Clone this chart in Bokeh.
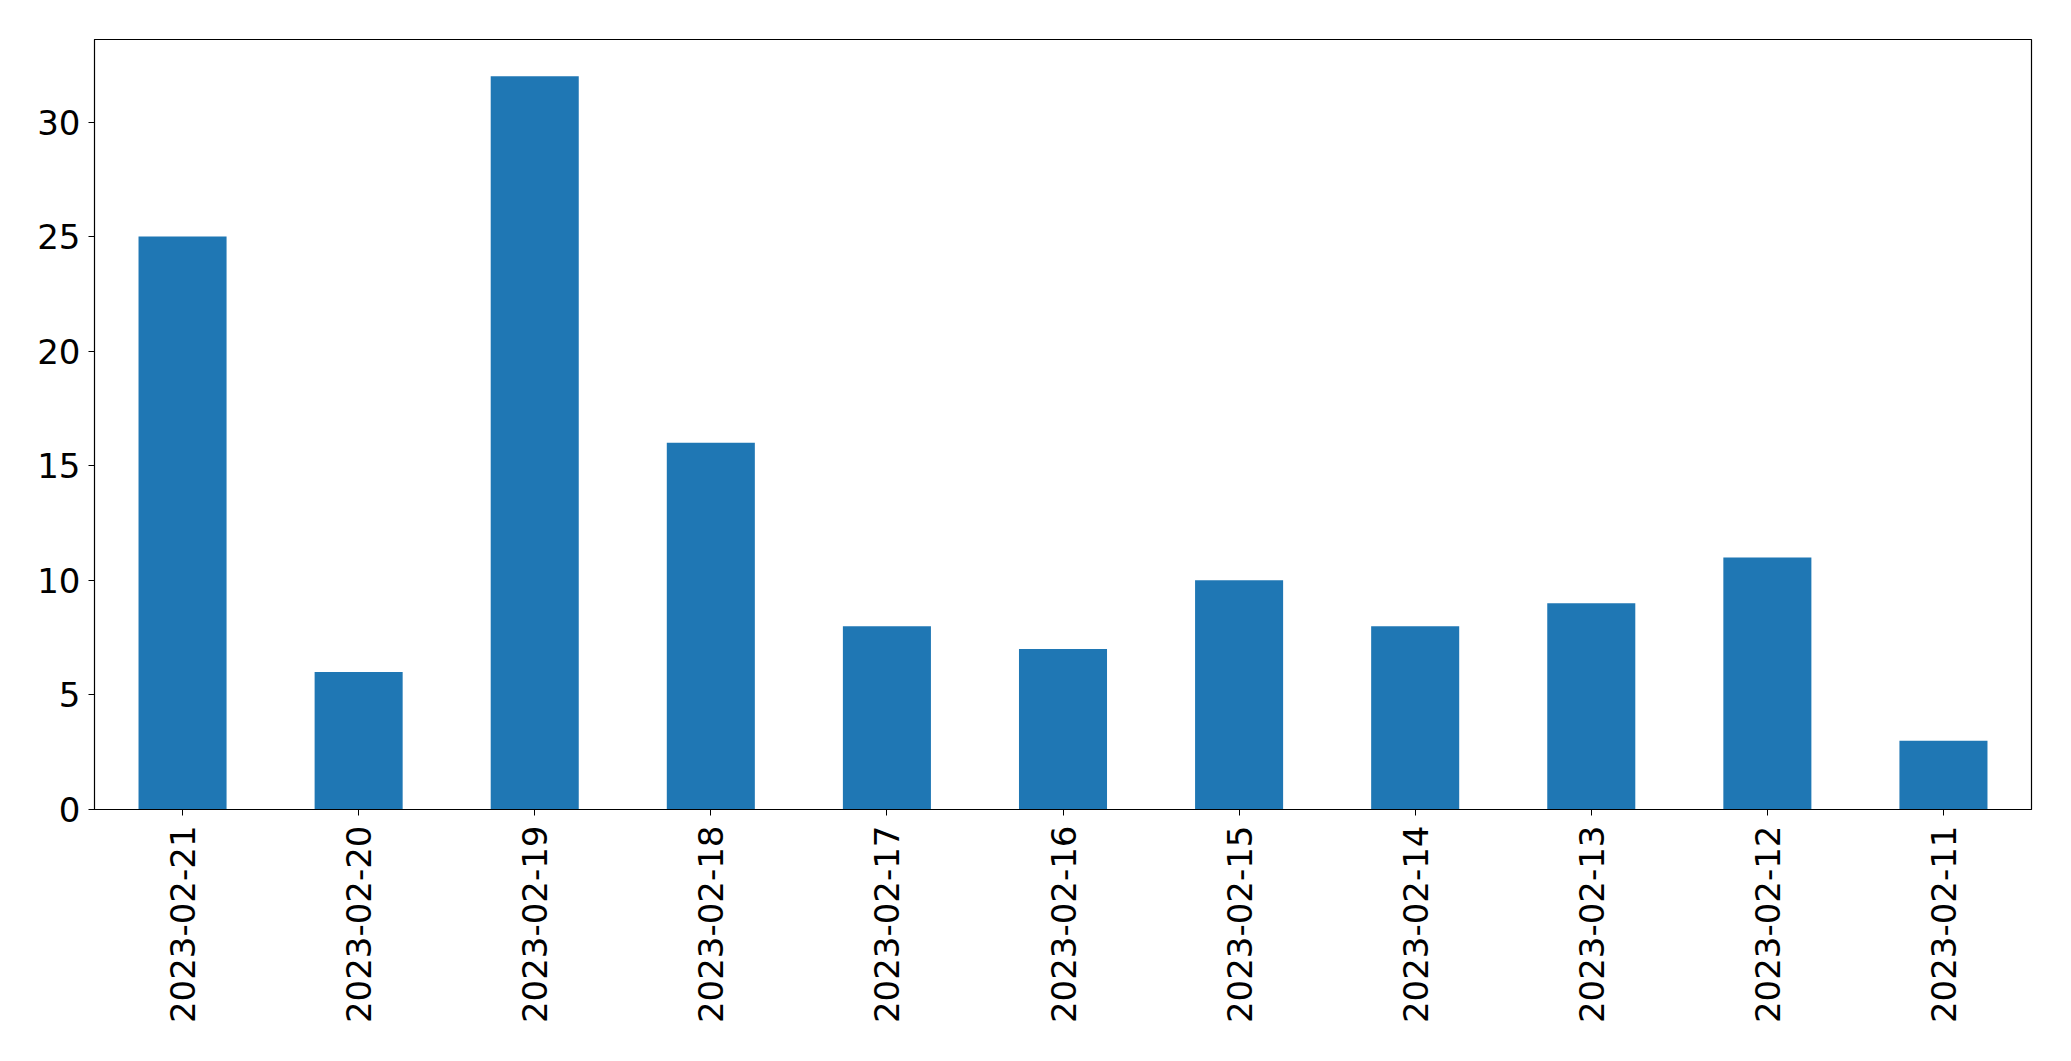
import math
from bokeh.plotting import figure
from bokeh.models import FactorRange, Range1d, FixedTicker, ColumnDataSource
from bokeh.embed import file_html
from bokeh.resources import INLINE

dates = ["2023-02-21", "2023-02-20", "2023-02-19", "2023-02-18", "2023-02-17",
         "2023-02-16", "2023-02-15", "2023-02-14", "2023-02-13", "2023-02-12",
         "2023-02-11"]
counts = [25, 6, 32, 16, 8, 7, 10, 8, 9, 11, 3]
y_ticks = [0, 5, 10, 15, 20, 25, 30]

src = ColumnDataSource(data=dict(date=dates, count=counts))

p = figure(x_range=FactorRange(factors=dates), y_range=Range1d(0, max(counts) * 1.05),
           frame_width=1937, frame_height=770,
           min_border_left=94, min_border_top=39, min_border_right=30, min_border_bottom=225,
           output_backend="svg", toolbar_location=None)

p.vbar(x="date", top="count", width=0.5, source=src, color="#1f77b4", line_color=None)

p.xgrid.visible = False
p.ygrid.visible = False
p.outline_line_color = "black"
p.outline_line_alpha = 1
p.outline_line_width = 1.2

for ax in (p.xaxis[0], p.yaxis[0]):
    ax.major_label_text_font = "DejaVu Sans"
    ax.major_label_text_font_size = "34px"
    ax.major_label_text_color = "black"
    ax.axis_line_color = "black"
    ax.major_tick_line_color = "black"
    ax.major_tick_out = 6
    ax.major_tick_in = 0
    ax.minor_tick_line_color = None
    ax.major_label_standoff = 8

p.yaxis[0].ticker = FixedTicker(ticks=y_ticks)
p.xaxis[0].major_label_orientation = math.pi / 2
p.xaxis[0].major_label_standoff = 10

open("out.html", "w").write(file_html(p, INLINE))
